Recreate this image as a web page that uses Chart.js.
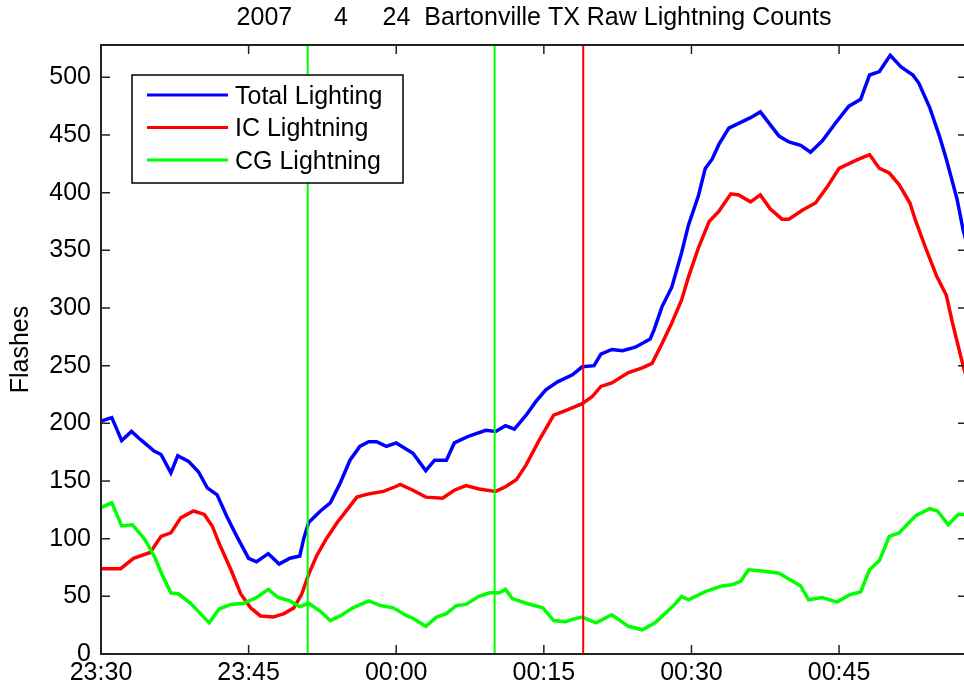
<!DOCTYPE html>
<html lang="en">
<head>
<meta charset="UTF-8">
<title>Bartonville TX Raw Lightning Counts</title>
<script src="https://cdn.jsdelivr.net/npm/chart.js"></script>
<style>
  html, body { margin: 0; padding: 0; background: #fff; overflow: hidden; }
  #wrap { width: 967px; height: 690px; }
</style>
</head>
<body>
<div id="wrap"><canvas id="chart" width="967" height="690"></canvas></div>
<script>
// time axis is minutes after 23:30
const xTickLabels = ['23:30', '23:45', '00:00', '00:15', '00:30', '00:45'];
const xMax = 88;
const yMax = 528;

const totalMin = [0, 1.1, 2.1, 3.1, 4.0, 5.4, 6.1, 7.1, 7.8, 8.9, 9.9, 10.8, 11.8, 12.8, 13.8, 15.0, 15.8, 17.0, 18.1, 19.2,
  20.2, 20.6, 21.1, 22.3, 23.3, 24.3, 25.3, 26.3, 27.2, 28.0, 29.0, 30.0, 31.7, 33.0, 33.9, 35.1, 35.9, 37.4, 39.1, 40.1,
  41.1, 42.0, 43.2, 44.2, 45.2, 46.4, 47.9, 48.9, 50.1, 50.8, 51.9, 53.0, 54.3, 55.8, 56.2, 57.0, 58.0, 59.0, 59.7, 60.7,
  61.4, 62.1, 62.8, 63.8, 64.8, 66.0, 67.0, 67.9, 68.9, 69.9, 71.1, 72.1, 73.3, 74.7, 76.0, 77.2, 78.1, 79.1, 80.2, 81.3,
  82.5, 83.1, 84.2, 85.2, 85.9, 86.5, 87.0, 87.6, 88];
const totalCount = [202, 205, 185, 193, 186, 176, 173, 157, 172, 167, 158, 144, 138, 119, 102, 83, 80, 87, 78, 83,
  85, 100, 114, 124, 131, 148, 168, 180, 184, 184, 180, 183, 174, 159, 168, 168, 183, 189, 194, 193,
  198, 195, 207, 219, 229, 236, 242, 249, 250, 260, 264, 263, 266, 273, 281, 301, 318, 348, 372, 397,
  421, 429, 442, 456, 460, 465, 470, 460, 449, 444, 441, 435, 445, 461, 475, 481, 502, 505, 519, 509,
  502, 495, 474, 449, 429, 410, 394, 368, 355];

const icMin = [0, 2.0, 3.3, 5.0, 6.1, 7.1, 8.1, 9.4, 10.5, 11.3, 12.1, 13.2, 14.2, 15.2, 16.2, 17.5, 18.6, 19.6, 20.4, 21.1,
  21.9, 22.9, 24.0, 25.0, 26.0, 27.3, 28.7, 29.9, 30.4, 31.7, 33.0, 34.7, 35.9, 37.1, 38.4, 40.1, 41.1, 42.2, 43.2, 44.5,
  46.0, 47.2, 48.9, 49.9, 50.8, 51.9, 53.6, 55.0, 56.0, 57.0, 58.0, 59.0, 59.7, 60.7, 61.8, 62.8, 64.0, 64.8, 66.0, 67.0,
  68.0, 69.2, 69.9, 71.3, 72.6, 73.8, 75.0, 76.7, 78.1, 79.1, 80.1, 81.1, 82.2, 82.8, 83.8, 84.9, 85.9, 86.5, 87.6, 88];
const icCount = [74, 74, 83, 88, 102, 105, 118, 124, 121, 111, 94, 73, 52, 40, 33, 32, 35, 40, 52, 69,
  85, 100, 114, 125, 136, 139, 141, 145, 147, 142, 136, 135, 142, 146, 143, 141, 145, 151, 164, 185,
  207, 211, 217, 223, 232, 235, 244, 248, 252, 269, 287, 307, 327, 352, 375, 384, 399, 398, 392, 398,
  386, 377, 377, 385, 391, 405, 421, 428, 433, 421, 417, 407, 391, 375, 352, 328, 311, 288, 250, 238];

const cgMin = [0, 1.1, 2.1, 3.2, 4.4, 5.4, 6.2, 7.1, 7.9, 9.1, 10.1, 11.0, 12.0, 13.2, 14.5, 15.8, 17.0, 18.0, 19.2, 20.2,
  21.1, 22.3, 23.3, 24.3, 25.6, 27.2, 28.4, 29.7, 31.1, 31.7, 33.0, 34.1, 35.1, 36.1, 37.1, 38.4, 39.5, 40.5, 41.1, 41.8,
  43.2, 44.9, 46.0, 47.2, 47.9, 48.9, 50.3, 51.9, 53.6, 55.0, 56.3, 57.3, 58.3, 59.0, 59.7, 61.4, 63.1, 64.1, 65.0, 65.8,
  67.2, 68.9, 69.9, 71.1, 71.9, 73.3, 74.8, 76.0, 77.2, 78.1, 79.1, 80.1, 81.1, 82.8, 84.2, 85.0, 86.1, 87.1, 88];
const cgCount = [127, 131, 111, 112, 100, 85, 69, 53, 52, 44, 35, 27, 39, 43, 44, 49, 56, 49, 46, 41,
  44, 37, 29, 33, 40, 46, 42, 40, 33, 31, 24, 32, 35, 42, 43, 50, 53, 53, 56, 48,
  44, 40, 29, 28, 30, 32, 27, 34, 24, 21, 27, 35, 43, 50, 47, 54, 59, 60, 63, 73,
  72, 70, 65, 59, 47, 49, 45, 51, 54, 73, 81, 102, 105, 120, 126, 124, 112, 121, 121];

// marker times (minutes after 23:30)
const greenMarks = [21, 40];
const redMarks = [49];

const pairs = (xs, ys) => xs.map((x, i) => ({ x: x, y: ys[i] }));
const vline = (x, color, order) => ({
  data: [{ x: x, y: 0 }, { x: x, y: yMax }],
  borderColor: color, borderWidth: 2, pointRadius: 0, order: order, marker: true
});

Chart.defaults.font.family = '"Liberation Sans", Arial, sans-serif';
Chart.defaults.font.size = 25;
Chart.defaults.color = '#000';

// axes box with inward ticks, plus the legend box
const frame = {
  id: 'frame',
  afterDraw(chart) {
    const { ctx, chartArea: a, scales: { x, y } } = chart;
    ctx.save();
    ctx.strokeStyle = '#222';
    ctx.lineWidth = 2;
    ctx.strokeRect(a.left, a.top, a.right - a.left, a.bottom - a.top);
    ctx.lineWidth = 1.5;
    ctx.beginPath();
    x.ticks.forEach(t => {
      const px = x.getPixelForValue(t.value);
      ctx.moveTo(px, a.bottom); ctx.lineTo(px, a.bottom - 9);
      ctx.moveTo(px, a.top); ctx.lineTo(px, a.top + 9);
    });
    y.ticks.forEach(t => {
      const py = y.getPixelForValue(t.value);
      ctx.moveTo(a.left, py); ctx.lineTo(a.left + 9, py);
      ctx.moveTo(a.right, py); ctx.lineTo(a.right - 9, py);
    });
    ctx.stroke();

    // legend
    const lx = a.left + 31, ly = a.top + 30, lw = 271, lh = 108;
    ctx.fillStyle = '#fff';
    ctx.fillRect(lx, ly, lw, lh);
    ctx.strokeStyle = '#000';
    ctx.lineWidth = 1.5;
    ctx.strokeRect(lx, ly, lw, lh);
    ctx.font = '25px "Liberation Sans", Arial, sans-serif';
    ctx.textBaseline = 'middle';
    ctx.textAlign = 'left';
    chart.data.datasets.filter(d => !d.marker).forEach((d, i) => {
      const ry = ly + 20 + i * 32.5;
      ctx.strokeStyle = d.borderColor;
      ctx.lineWidth = 3;
      ctx.beginPath();
      ctx.moveTo(lx + 15, ry); ctx.lineTo(lx + 96, ry);
      ctx.stroke();
      ctx.fillStyle = '#000';
      ctx.fillText(d.label, lx + 103, ry + 2);
    });
    ctx.restore();
  }
};

new Chart(document.getElementById('chart'), {
  type: 'line',
  data: {
    datasets: [
      { label: 'Total Lighting', data: pairs(totalMin, totalCount), borderColor: '#0000ff', borderWidth: 3.5, pointRadius: 0, order: 5 },
      { label: 'IC Lightning', data: pairs(icMin, icCount), borderColor: '#ff0000', borderWidth: 3.5, pointRadius: 0, order: 4 },
      { label: 'CG Lightning', data: pairs(cgMin, cgCount), borderColor: '#00ff00', borderWidth: 3.5, pointRadius: 0, order: 3 },
      ...greenMarks.map(m => vline(m, '#00ff00', 1)),
      ...redMarks.map(m => vline(m, '#ff0000', 1))
    ]
  },
  options: {
    responsive: false,
    animation: false,
    layout: { padding: 0 },
    plugins: {
      legend: { display: false },
      tooltip: { enabled: false },
      title: {
        display: true,
        text: '2007      4     24  Bartonville TX Raw Lightning Counts',
        fullSize: false,
        color: '#000',
        font: { size: 25, weight: 'normal' },
        padding: { top: 3, bottom: 12 }
      }
    },
    scales: {
      x: {
        type: 'linear',
        min: 0,
        max: xMax,
        grid: { display: false, drawTicks: false },
        border: { display: false },
        ticks: {
          stepSize: 15,
          includeBounds: false,
          autoSkip: false,
          maxRotation: 0,
          padding: 4,
          callback: v => xTickLabels[Math.round(v / 15)]
        },
        afterFit: s => { s.height = 36; }
      },
      y: {
        min: 0,
        max: yMax,
        grid: { display: false, drawTicks: false },
        border: { display: false },
        ticks: { stepSize: 50, includeBounds: false, padding: 10 },
        title: { display: true, text: 'Flashes', padding: { top: 6, bottom: 0 } },
        afterFit: s => { s.width = 101; }
      }
    }
  },
  plugins: [frame]
});
</script>
</body>
</html>
